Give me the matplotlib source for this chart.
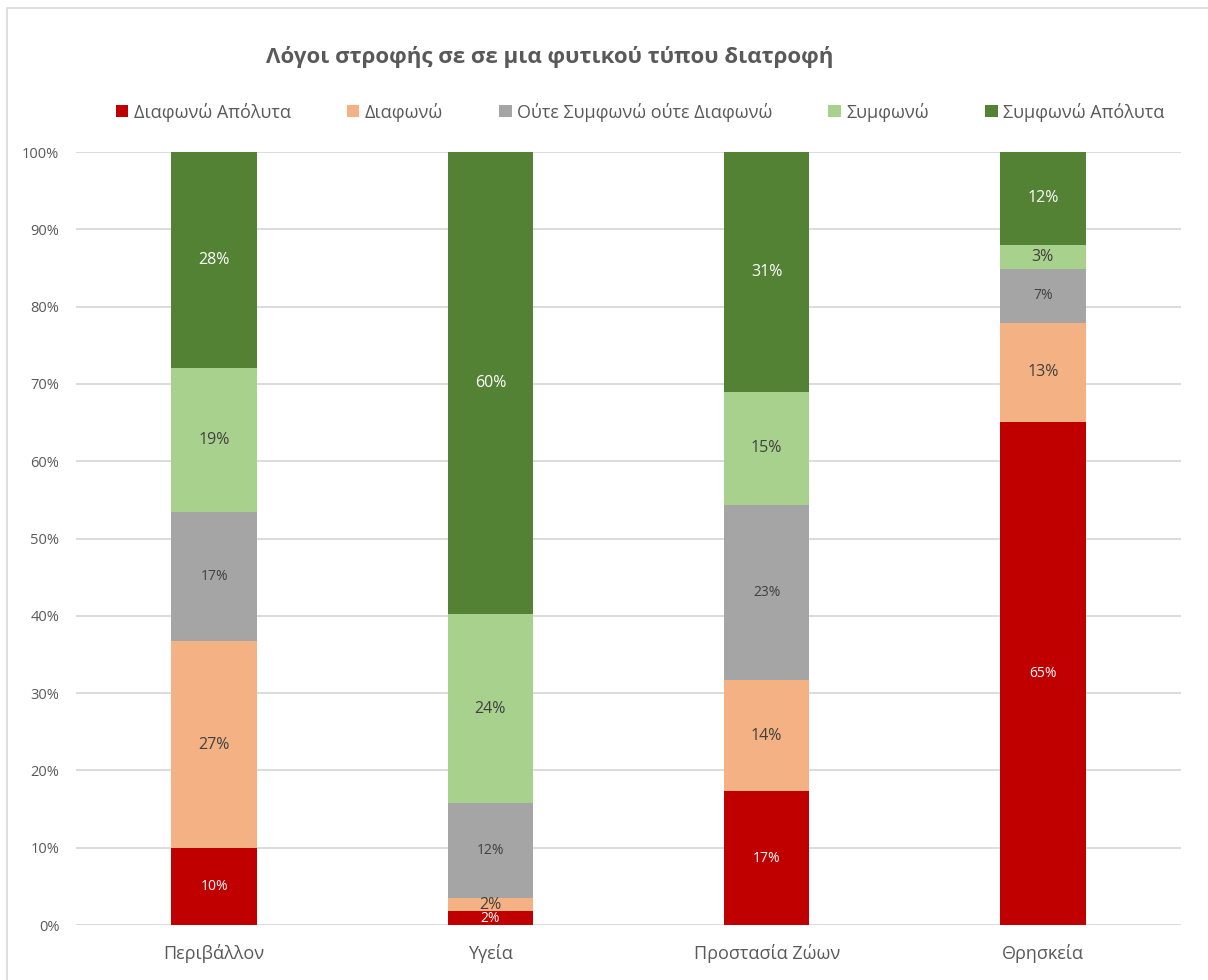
import matplotlib
matplotlib.use("Agg")
import matplotlib.pyplot as plt
from matplotlib.patches import Rectangle
import numpy as np

plt.rcParams['font.family'] = ['Open Sans', 'DejaVu Sans']

categories = ["Περιβάλλον", "Υγεία", "Προστασία Ζώων", "Θρησκεία"]
series_names = ["Διαφωνώ Απόλυτα", "Διαφωνώ", "Ούτε Συμφωνώ ούτε Διαφωνώ",
                "Συμφωνώ", "Συμφωνώ Απόλυτα"]
diafono_apoluta = [10.0, 1.8, 17.3, 65.1]
diafono = [26.7, 1.7, 14.4, 12.8]
oute = [16.7, 12.3, 22.6, 7.0]
symfono = [18.7, 24.4, 14.7, 3.1]
symfono_apoluta = [27.9, 59.8, 31.0, 12.0]
title = "Λόγοι στροφής σε σε μια φυτικού τύπου διατροφή"

series = [diafono_apoluta, diafono, oute, symfono, symfono_apoluta]
colors = ["#C00000", "#F4B183", "#A5A5A5", "#A9D18E", "#548235"]
label_colors = ["white", "#404040", "#404040", "#404040", "white"]
label_sizes = [10, 11.5, 10, 11.5, 11.5]

W, H = 1208, 980
fig = plt.figure(figsize=(W / 100, H / 100), dpi=100)
fig.patch.set_facecolor("white")

# outer chart frame
fig.patches.append(Rectangle((7 / W, -0.01), 1.02, 1 - 8 / H + 0.01,
                             transform=fig.transFigure, fill=False,
                             edgecolor="#D9D9D9", linewidth=1.2))

ax = fig.add_axes([76 / W, 1 - 925 / H, (1181 - 76) / W, (925 - 152) / H])
x = np.arange(len(categories))
bottom = np.zeros(len(categories))
bars_all = []
for vals, name, col in zip(series, series_names, colors):
    vals = np.array(vals)
    ax.bar(x, vals, 0.31, bottom=bottom, color=col, label=name, zorder=3)
    bars_all.append((vals, bottom.copy()))
    bottom = bottom + vals

for (vals, bot), lc, ls in zip(bars_all, label_colors, label_sizes):
    for xi, v, b0 in zip(x, vals, bot):
        ax.text(xi, b0 + v / 2, f"{round(v):.0f}%", ha="center", va="center",
                color=lc, fontsize=ls, zorder=4)

ax.set_xlim(-0.5, len(categories) - 0.5)
ax.set_ylim(0, 100)
ax.set_yticks(np.arange(0, 101, 10))
ax.set_yticklabels([f"{t}%" for t in range(0, 101, 10)], fontsize=10.5, color="#595959")
ax.set_xticks(x)
ax.set_xticklabels(categories, fontsize=13, color="#595959")
ax.tick_params(axis="both", length=0)
ax.tick_params(axis="x", pad=14)
ax.tick_params(axis="y", pad=12)
ax.grid(axis="y", color="#D9D9D9", linewidth=1.3, zorder=0)
for s in ax.spines.values():
    s.set_visible(False)

fig.text(550 / W, 1 - 57 / H, title, ha="center", va="center",
         fontsize=16, fontweight="bold", color="#595959")

fig.legend(loc="center", bbox_to_anchor=(640 / W, 1 - 112 / H), ncol=5,
           frameon=False, fontsize=13, labelcolor="#595959",
           handlelength=0.7, handleheight=0.7, handletextpad=0.3,
           columnspacing=3.1)

fig.savefig("out.png", dpi=100, facecolor="white")
